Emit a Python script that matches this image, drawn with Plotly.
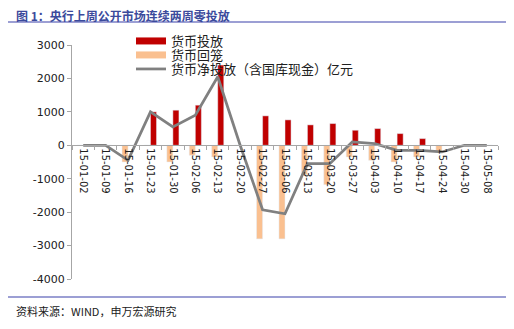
import plotly.graph_objects as go

categories = ["15-01-02", "15-01-09", "15-01-16", "15-01-23", "15-01-30", "15-02-06",
              "15-02-13", "15-02-20", "15-02-27", "15-03-06", "15-03-13", "15-03-20",
              "15-03-27", "15-04-03", "15-04-10", "15-04-17", "15-04-24", "15-04-30",
              "15-05-08"]
injection = [0, 0, 0, 1000, 1050, 1200, 2400, 0, 880, 760, 610, 650,
             450, 500, 350, 200, 0, 0, 0]
withdrawal = [0, 0, -500, 0, -500, -300, -350, 0, -2800, -2800, -880, -1180,
              -350, -450, -500, -350, -200, 0, 0]
net = [0, 0, -450, 1000, 550, 900, 2050, 0, -1930, -2050, -550, -550,
       100, 50, -150, -150, -200, 0, 0]
y_ticks = [3000, 2000, 1000, 0, -1000, -2000, -3000, -4000]

RED = "#C00000"
ORANGE = "#FAC090"
GRAY = "#808080"
FONT = "DejaVu Sans, Noto Sans CJK SC"

fig = go.Figure()
fig.add_trace(go.Bar(x=categories, y=withdrawal, marker_color=ORANGE, showlegend=False,
                     name="货币回笼"))
fig.add_trace(go.Bar(x=categories, y=injection, marker_color=RED, showlegend=False,
                     name="货币投放"))
fig.add_trace(go.Scatter(x=categories, y=net, mode="lines", line=dict(color=GRAY, width=2.75),
                         showlegend=False, name="货币净投放（含国库现金）亿元"))
# legend entries
fig.add_trace(go.Scatter(x=[None], y=[None], mode="lines", line=dict(color=RED, width=7),
                         name="货币投放", legend="legend"))
fig.add_trace(go.Scatter(x=[None], y=[None], mode="lines", line=dict(color=ORANGE, width=7),
                         name="货币回笼", legend="legend2"))
fig.add_trace(go.Scatter(x=[None], y=[None], mode="lines", line=dict(color=GRAY, width=2.75),
                         name="货币净投放（含国库现金）亿元", legend="legend3"))

L, R, T, B = 72, 498, 45, 279
W, H = R - L, B - T
def px(x):
    return (x - L) / W
def py(y):
    return (B - y) / H

def leg(top):
    return dict(x=px(131), y=py(top), xanchor="left", yanchor="top",
                font=dict(size=13, color="#202020"), bgcolor="rgba(0,0,0,0)",
                itemwidth=30)

fig.update_layout(
    width=514, height=329,
    margin=dict(l=L, r=514 - R, t=T, b=329 - B),
    paper_bgcolor="white", plot_bgcolor="white",
    barmode="group", bargap=0.46, bargroupgap=0,
    font=dict(family=FONT, size=11, color="#404040"),
    legend=leg(26), legend2=leg(40), legend3=leg(54),
    xaxis=dict(type="category", anchor="free", position=4 / 7,
               showline=True, linecolor="#A6A6A6", linewidth=1,
               ticks="outside", tickson="boundaries", ticklen=4, tickcolor="#A6A6A6",
               tickangle=90, tickfont=dict(size=10, color="#202020"),
               showgrid=False, zeroline=False, range=[-0.5, 18.5]),
    yaxis=dict(range=[-4000, 3000], tickvals=y_ticks, ticktext=[str(v) for v in y_ticks],
               showline=True, linecolor="#A6A6A6", linewidth=1,
               ticks="outside", ticklen=4, tickcolor="#A6A6A6",
               tickfont=dict(size=11, color="#202020"),
               showgrid=False, zeroline=False),
    shapes=[
        dict(type="line", xref="paper", yref="paper", x0=px(8), x1=px(506), y0=py(22), y1=py(22),
             line=dict(color="#7B7FC6", width=1.5)),
        dict(type="line", xref="paper", yref="paper", x0=px(8), x1=px(506), y0=py(297), y1=py(297),
             line=dict(color="#7B7FC6", width=1.5)),
    ],
    annotations=[
        dict(text="<b>图 1：央行上周公开市场连续两周零投放</b>", xref="paper", yref="paper",
             x=px(14), y=py(15), xanchor="left", yanchor="middle", showarrow=False,
             font=dict(family="Noto Sans CJK SC", size=12, color="#3B4A9C")),
        dict(text="资料来源：WIND，申万宏源研究", xref="paper", yref="paper",
             x=px(14), y=py(311), xanchor="left", yanchor="middle", showarrow=False,
             font=dict(family="Noto Sans CJK SC", size=11, color="#202020")),
    ],
)

fig.write_html("out.html")
